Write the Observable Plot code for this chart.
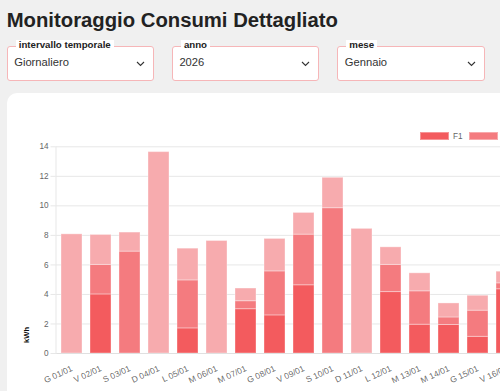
<!DOCTYPE html>
<html>
<head>
<meta charset="utf-8">
<script src="https://cdn.jsdelivr.net/npm/d3@7"></script>
<script src="https://cdn.jsdelivr.net/npm/@observablehq/plot@0.6"></script>
<style>
  html, body { margin: 0; padding: 0; overflow: hidden; width: 500px; height: 391px; background: #f0f0f0; }
  body { position: relative; font-family: "Liberation Sans", Arial, sans-serif; }
  .abs { position: absolute; white-space: nowrap; }
  #title { left: 6.7px; top: 9.5px; font-size: 20.3px; line-height: 20.3px; font-weight: bold; color: #222; }
  .box { position: absolute; top: 45.7px; width: 147.6px; height: 35.3px; box-sizing: border-box;
         border: 1.3px solid #f6b6b8; border-radius: 3px; background: #fff; }
  .lab { position: absolute; left: 8px; top: -6.5px; padding: 0 3px; background: #fff;
         font-size: 9.7px; line-height: 9.7px; font-weight: bold; color: #222; }
  .val { position: absolute; left: 6.5px; top: 10.4px; font-size: 11.2px; line-height: 11.2px; color: #333; }
  .chev { position: absolute; left: 128.5px; top: 14.5px; }
  #card { position: absolute; left: 6.7px; top: 93.3px; width: 620px; height: 420px; background: #fff; border-radius: 10px; }
  #chart { position: absolute; left: 0; top: 6.7px; }
  #legend { position: absolute; left: 413.6px; top: 38.4px; display: flex; align-items: center; font-size: 8.2px; color: #666; }
  .sw { width: 28.7px; height: 8.6px; box-sizing: border-box; margin-right: 4px; }
  .lt { margin-right: 6.5px; }
  #ylab { position: absolute; left: 22.2px; top: 342.5px; transform-origin: 0 0; transform: rotate(-90deg);
          font-size: 7.6px; font-weight: bold; color: #111; }
</style>
</head>
<body>
<div id="title" class="abs">Monitoraggio Consumi Dettagliato</div>
<div id="selects"></div>
<div id="card">
  <div id="chart"></div>
  <div id="legend"></div>
</div>
<div id="ylab" class="abs">kWh</div>
<script>
// ---- data ----
const selectLabels = ["intervallo temporale", "anno", "mese"];
const selectValues = ["Giornaliero", "2026", "Gennaio"];
const days = ["G 01/01","V 02/01","S 03/01","D 04/01","L 05/01","M 06/01","M 07/01","G 08/01",
              "V 09/01","S 10/01","D 11/01","L 12/01","M 13/01","M 14/01","G 15/01","V 16/01"];
const F1 = [0,    4.0,  0,    0,     1.7,  0,    3.0,  2.58, 4.62, 0,    0,    4.16, 1.95, 1.93, 1.13, 4.35];
const F2 = [0,    2.0,  6.9,  0,     3.25, 0,    0.54, 2.98, 3.43, 9.84, 0,    1.84, 2.26, 0.51, 1.77, 0.4];
const F3 = [8.07, 2.03, 1.29, 13.64, 2.15, 7.62, 0.86, 2.2,  1.47, 2.06, 8.44, 1.19, 1.22, 0.95, 1.01, 0.79];
const bands = ["F1", "F2", "F3"];
const bandColors = ["#f35b5e", "#f47b7f", "#f7abae"];
const yTicks = [0, 2, 4, 6, 8, 10, 12, 14];
const yLabel = "kWh";

// ---- selects ----
const boxLefts = [6.7, 171.9, 337.3];
const sel = document.getElementById("selects");
selectLabels.forEach((l, i) => {
  const b = document.createElement("div");
  b.className = "box";
  b.style.left = boxLefts[i] + "px";
  b.innerHTML = `<div class="lab">${l}</div><div class="val">${selectValues[i]}</div>` +
    `<svg class="chev" width="9" height="6" viewBox="0 0 9 6"><polyline points="1,1 4.5,4.5 8,1" fill="none" stroke="#333" stroke-width="1.1"/></svg>`;
  sel.appendChild(b);
});
document.getElementById("ylab").textContent = yLabel;

// ---- legend ----
const leg = document.getElementById("legend");
bands.forEach((b, i) => {
  leg.insertAdjacentHTML("beforeend",
    `<div class="sw" style="background:${bandColors[i]};border:1px solid rgba(255,255,255,0.35)"></div><div class="lt">${b}</div>`);
});

// ---- chart ----
const data = days.flatMap((d, i) => [
  {day: d, band: "F1", kwh: F1[i]},
  {day: d, band: "F2", kwh: F2[i]},
  {day: d, band: "F3", kwh: F3[i]}
]);

const chart = Plot.plot({
  width: 516,
  height: 303,
  marginLeft: 48.5,
  marginRight: 0,
  marginTop: 46.3,
  marginBottom: 50,
  style: {background: "transparent", fontFamily: "Liberation Sans, Arial, sans-serif", fontSize: "8.2px", overflow: "visible"},
  x: {domain: days, paddingInner: 0.28, paddingOuter: 0.14, label: null},
  y: {domain: [0, 14], label: null},
  color: {domain: bands, range: bandColors},
  marks: [
    Plot.gridY(yTicks, {stroke: "#e7e7e7", strokeOpacity: 1}),
    Plot.axisY(yTicks, {tickSize: 5, tickPadding: 2.5, stroke: "#e7e7e7", fill: "#666", label: null}),
    Plot.axisX({tickSize: 0, tickPadding: 14.5, tickRotate: -25, fill: "#666", fillOpacity: 0.99, fontSize: 8.5, label: null}),
    Plot.barY(data, {x: "day", y: "kwh", fill: "band", stroke: "#fff", strokeOpacity: 0.35, strokeWidth: 1}),
    Plot.ruleY([0], {stroke: "#e0e0e0"}),
    Plot.frame({anchor: "left", stroke: "#e7e7e7"})
  ]
});
document.getElementById("chart").appendChild(chart);
</script>
</body>
</html>
